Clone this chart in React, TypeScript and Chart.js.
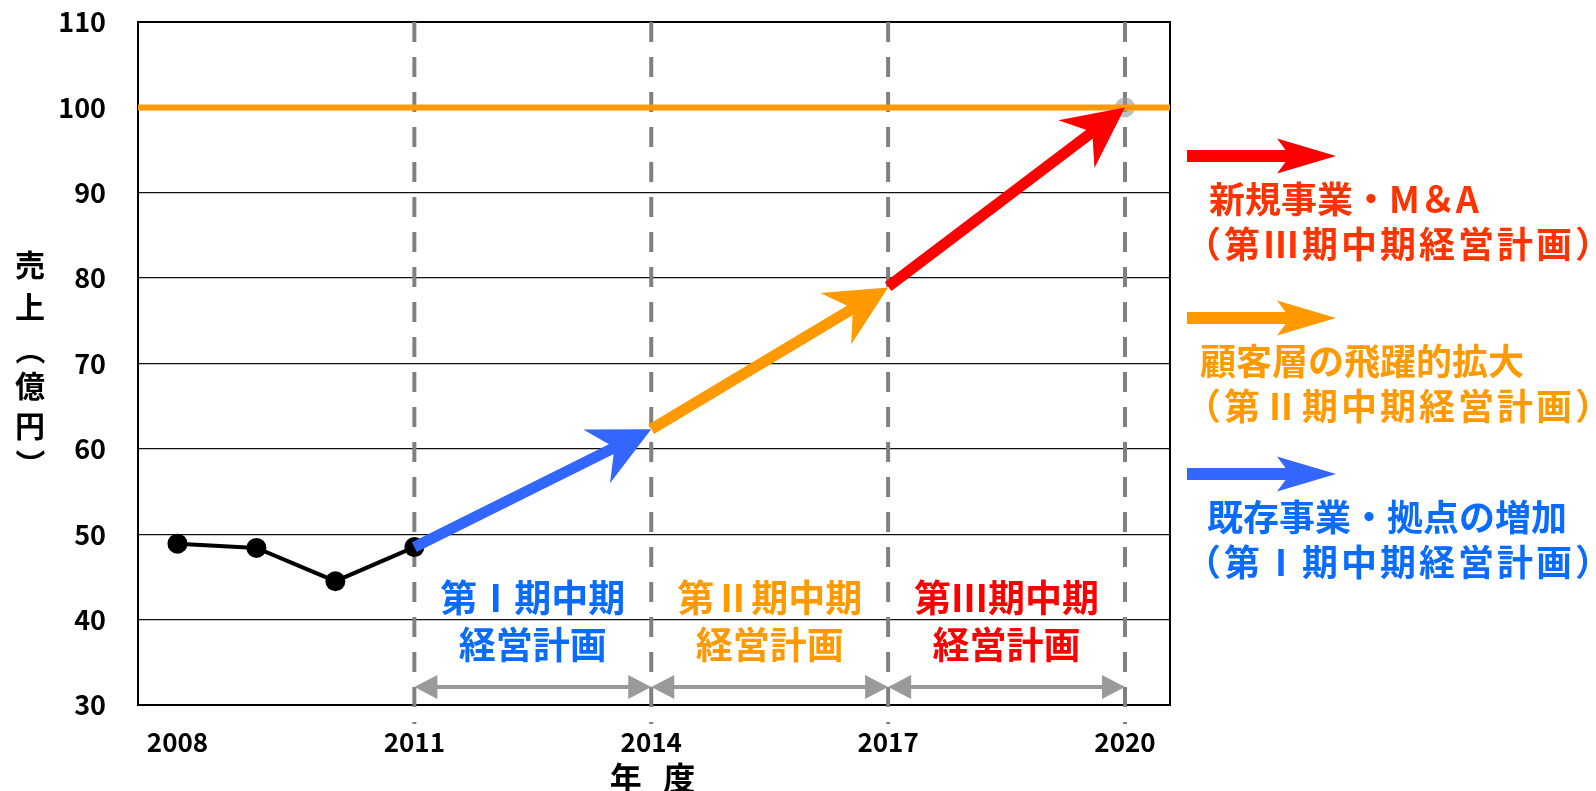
import React, { useEffect, useRef } from "react";
import { Chart, registerables } from "chart.js";

Chart.register(...registerables);

// ---------- data ----------
const years = [2008, 2009, 2010, 2011];
const sales = [48.9, 48.4, 44.5, 48.5];

const xTickYears = [2008, 2011, 2014, 2017, 2020];
const xMin = 2007.5;
const xMax = 2020.57;
const yMin = 30;
const yMax = 110;
const yStep = 10;

const targetValue = 100;
const goalYear = 2020;

const planStartYears = [2011, 2014, 2017];
const planEndYears = [2014, 2017, 2020];
const planStartValues = [48.5, 62.3, 79.0];
const planEndValues = [62.3, 78.9, 100];
const planColors = ["#3366ff", "#ff9900", "#ff0000"];
const planTextColors = ["#0a6cff", "#ff9900", "#ff0000"];
const planLabelLine1 = ["第Ⅰ期中期", "第Ⅱ期中期", "第Ⅲ期中期"];
const planLabelLine2 = ["経営計画", "経営計画", "経営計画"];
const planLabelYears = [2012.5, 2015.5, 2018.5];
const planLabelValue1 = 42.5;
const planLabelValue2 = 37.0;

const periodMarkerYears = [2011, 2014, 2017, 2020];
const periodArrowValue = 32.1;

const legendLine1 = ["新規事業・M＆A", "顧客層の飛躍的拡大", "既存事業・拠点の増加"];
const legendLine2 = ["（第Ⅲ期中期経営計画）", "（第Ⅱ期中期経営計画）", "（第Ⅰ期中期経営計画）"];
const legendArrowColors = ["#ff0000", "#ff9900", "#3366ff"];
const legendTextColors = ["#ff3300", "#ff9900", "#0a6cff"];

const yTitleChars = ["売", "上", "（", "億", "円", "）"];
const xTitle = "年 度";

// ---------- helpers ----------
const FONT = '"Noto Sans CJK JP", "Noto Sans", sans-serif';
const TARGET_AREA = { left: 138, top: 22, right: 1170, bottom: 705 };

function drawArrow(
  ctx: CanvasRenderingContext2D,
  x1: number, y1: number, x2: number, y2: number,
  width: number, headLen: number, headHalf: number, notch: number, color: string
) {
  const dx = x2 - x1, dy = y2 - y1;
  const len = Math.hypot(dx, dy);
  const ux = dx / len, uy = dy / len;
  const nx = -uy, ny = ux;
  ctx.save();
  ctx.strokeStyle = color;
  ctx.fillStyle = color;
  ctx.lineWidth = width;
  ctx.lineCap = "butt";
  ctx.beginPath();
  ctx.moveTo(x1, y1);
  ctx.lineTo(x2 - ux * (notch - 2), y2 - uy * (notch - 2));
  ctx.stroke();
  ctx.beginPath();
  ctx.moveTo(x2, y2);
  ctx.lineTo(x2 - ux * headLen + nx * headHalf, y2 - uy * headLen + ny * headHalf);
  ctx.lineTo(x2 - ux * notch, y2 - uy * notch);
  ctx.lineTo(x2 - ux * headLen - nx * headHalf, y2 - uy * headLen - ny * headHalf);
  ctx.closePath();
  ctx.fill();
  ctx.restore();
}

function drawDoubleArrow(ctx: CanvasRenderingContext2D, xa: number, xb: number, y: number) {
  const hl = 23, hh = 12;
  ctx.save();
  ctx.strokeStyle = "#9a9a9a";
  ctx.fillStyle = "#9a9a9a";
  ctx.lineWidth = 4;
  ctx.beginPath();
  ctx.moveTo(xa + hl - 1, y);
  ctx.lineTo(xb - hl + 1, y);
  ctx.stroke();
  ctx.beginPath();
  ctx.moveTo(xa, y);
  ctx.lineTo(xa + hl, y - hh);
  ctx.lineTo(xa + hl, y + hh);
  ctx.closePath();
  ctx.fill();
  ctx.beginPath();
  ctx.moveTo(xb, y);
  ctx.lineTo(xb - hl, y - hh);
  ctx.lineTo(xb - hl, y + hh);
  ctx.closePath();
  ctx.fill();
  ctx.restore();
}

const decorPlugin = {
  id: "decor",
  beforeDatasetsDraw(chart: any) {
    const { ctx, chartArea, scales } = chart;
    const xs = scales.x;
    ctx.save();
    ctx.strokeStyle = "#000";
    ctx.lineWidth = 2;
    ctx.strokeRect(chartArea.left, chartArea.top, chartArea.right - chartArea.left, chartArea.bottom - chartArea.top);
    ctx.strokeStyle = "#808080";
    ctx.lineWidth = 4;
    ctx.setLineDash([20, 15]);
    periodMarkerYears.forEach((yr) => {
      const px = xs.getPixelForValue(yr);
      ctx.beginPath();
      ctx.moveTo(px, chartArea.top);
      ctx.lineTo(px, chartArea.bottom + 19);
      ctx.stroke();
    });
    ctx.restore();
  },
  afterDatasetsDraw(chart: any) {
    const { ctx, scales } = chart;
    const xs = scales.x, ys = scales.y;
    planStartYears.forEach((sy, i) => {
      drawArrow(
        ctx,
        xs.getPixelForValue(sy), ys.getPixelForValue(planStartValues[i]),
        xs.getPixelForValue(planEndYears[i]), ys.getPixelForValue(planEndValues[i]),
        11, 61, 30, 41, planColors[i]
      );
    });
    const py = ys.getPixelForValue(periodArrowValue);
    for (let i = 0; i < periodMarkerYears.length - 1; i++) {
      drawDoubleArrow(ctx, xs.getPixelForValue(periodMarkerYears[i]), xs.getPixelForValue(periodMarkerYears[i + 1]), py);
    }
  },
  afterDraw(chart: any) {
    const { ctx, scales, chartArea } = chart;
    const xs = scales.x, ys = scales.y;
    ctx.save();
    ctx.textAlign = "center";
    ctx.textBaseline = "middle";
    ctx.font = `bold 37px ${FONT}`;
    planLabelYears.forEach((yr, i) => {
      ctx.fillStyle = planTextColors[i];
      ctx.fillText(planLabelLine1[i], xs.getPixelForValue(yr), ys.getPixelForValue(planLabelValue1));
      ctx.fillText(planLabelLine2[i], xs.getPixelForValue(yr), ys.getPixelForValue(planLabelValue2));
    });
    // legend
    const arrowYs = [156, 318, 474];
    const line1X = [1209, 1200, 1207];
    legendLine1.forEach((t, i) => {
      drawArrow(ctx, 1187, arrowYs[i], 1336, arrowYs[i], 12, 59, 17.5, 46, legendArrowColors[i]);
      ctx.fillStyle = legendTextColors[i];
      ctx.textAlign = "left";
      ctx.font = `bold 36px ${FONT}`;
      (ctx as any).letterSpacing = "0px";
      ctx.fillText(t, line1X[i], arrowYs[i] + 43);
      (ctx as any).letterSpacing = "3px";
      ctx.fillText(legendLine2[i], 1185, arrowYs[i] + 88);
      (ctx as any).letterSpacing = "0px";
    });
    // y title (vertical)
    ctx.fillStyle = "#000";
    ctx.font = `bold 30px ${FONT}`;
    ctx.textAlign = "center";
    const ty = [265, 307, 350, 386, 426, 464];
    yTitleChars.forEach((c, i) => {
      if (c === "（" || c === "）") {
        ctx.save();
        ctx.translate(30, ty[i]);
        ctx.rotate(Math.PI / 2);
        ctx.fillText(c, 0, 0);
        ctx.restore();
      } else {
        ctx.fillText(c, 30, ty[i]);
      }
    });
    // x title
    ctx.font = `bold 32px ${FONT}`;
    (ctx as any).letterSpacing = "7px";
    ctx.fillText(xTitle, (chartArea.left + chartArea.right) / 2 + 2, 778);
    (ctx as any).letterSpacing = "0px";
    ctx.restore();
  },
};

export default function App() {
  const canvasRef = useRef<HTMLCanvasElement | null>(null);

  useEffect(() => {
    document.body.style.margin = "0";
    const canvas = canvasRef.current;
    if (!canvas) return;
    Chart.defaults.font.family = FONT;

    const chart = new Chart(canvas, {
      type: "line",
      data: {
        datasets: [
          {
            label: "売上",
            data: years.map((yr, i) => ({ x: yr, y: sales[i] })),
            borderColor: "#000",
            backgroundColor: "#000",
            borderWidth: 4,
            pointRadius: 10,
            pointBackgroundColor: "#000",
            pointBorderWidth: 0,
            order: 1,
          },
          {
            label: "目標",
            data: [
              { x: xMin, y: targetValue },
              { x: xMax, y: targetValue },
            ],
            borderColor: "#ff9900",
            borderWidth: 6,
            pointRadius: 0,
            order: 2,
          },
          {
            label: "ゴール",
            data: [{ x: goalYear, y: targetValue }],
            showLine: false,
            pointRadius: 10,
            pointBackgroundColor: "rgba(150,150,150,0.6)",
            pointBorderWidth: 0,
            order: 3,
          },
        ],
      },
      options: {
        responsive: false,
        animation: false,
        layout: { autoPadding: false, padding: { top: 22, right: 426, left: 0, bottom: 0 } },
        plugins: { legend: { display: false }, tooltip: { enabled: false } },
        scales: {
          x: {
            type: "linear",
            min: xMin,
            max: xMax,
            grid: { display: false, drawTicks: false },
            border: { display: true, color: "#000", width: 2 },
            afterBuildTicks: (scale: any) => {
              scale.ticks = xTickYears.map((v) => ({ value: v }));
            },
            afterFit: (scale: any) => {
              scale.height = 86;
            },
            ticks: {
              autoSkip: false,
              maxRotation: 0,
              padding: 22,
              color: "#000",
              font: { size: 26, weight: "bold", family: FONT },
              callback: (v: any) => String(v),
            },
          },
          y: {
            min: yMin,
            max: yMax,
            grid: { color: "#111", lineWidth: 1.3, drawTicks: false },
            border: { display: true, color: "#000", width: 2 },
            afterFit: (scale: any) => {
              scale.width = 138;
              scale.paddingTop = 0;
              scale.paddingBottom = 0;
            },
            ticks: {
              stepSize: yStep,
              padding: 32,
              color: "#000",
              font: { size: 27, weight: "bold", family: FONT },
            },
          },
        },
      },
      plugins: [decorPlugin],
    } as any);

    // nudge layout so the plot area lands where the reference has it
    for (let k = 0; k < 4; k++) {
      const ca = chart.chartArea;
      const p = (chart.options as any).layout.padding;
      const dt = ca.top - TARGET_AREA.top;
      const dl = ca.left - TARGET_AREA.left;
      const dr = ca.right - TARGET_AREA.right;
      if (Math.abs(dt) < 0.5 && Math.abs(dl) < 0.5 && Math.abs(dr) < 0.5) break;
      p.top -= dt;
      p.left -= dl;
      p.right += dr;
      chart.update();
    }

    return () => chart.destroy();
  }, []);

  return (
    <div style={{ width: 1596, height: 791, background: "#fff" }}>
      <canvas ref={canvasRef} width={1596} height={791} style={{ width: 1596, height: 791, display: "block" }} />
    </div>
  );
}
